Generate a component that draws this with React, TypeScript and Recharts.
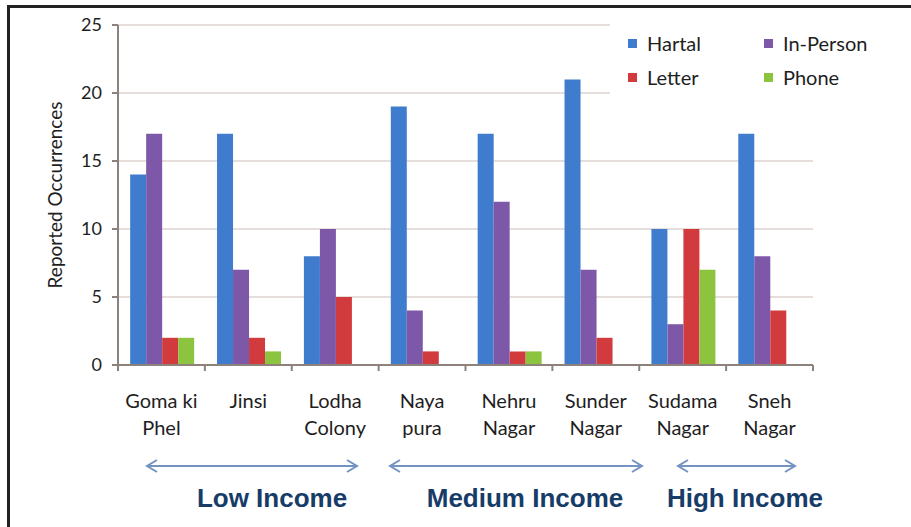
import { BarChart, Bar, XAxis, YAxis, CartesianGrid, Legend } from 'recharts'

const categories = [
  'Goma ki Phel',
  'Jinsi',
  'Lodha Colony',
  'Naya pura',
  'Nehru Nagar',
  'Sunder Nagar',
  'Sudama Nagar',
  'Sneh Nagar',
]
const hartal = [14, 17, 8, 19, 17, 21, 10, 17]
const inPerson = [17, 7, 10, 4, 12, 7, 3, 8]
const letter = [2, 2, 5, 1, 1, 2, 10, 4]
const phone = [2, 1, 0, 0, 1, 0, 7, 0]
const yTicks = [0, 5, 10, 15, 20, 25]

const seriesNames = ['Hartal', 'In-Person', 'Letter', 'Phone']
const seriesColors = ['#3f7ccd', '#7d58a8', '#d13b3d', '#8dc43f']

const incomeGroups = [
  { label: 'Low Income', x1: 147, x2: 357, cx: 272 },
  { label: 'Medium Income', x1: 390, x2: 642, cx: 525 },
  { label: 'High Income', x1: 678, x2: 795, cx: 745 },
]

const data = categories.map((name, i) => ({
  name,
  Hartal: hartal[i],
  'In-Person': inPerson[i],
  Letter: letter[i],
  Phone: phone[i],
}))

const W = 911
const H = 527
const CHART_H = 450
const PLOT_LEFT = 118
const PLOT_RIGHT = 813
const PLOT_TOP = 25
const PLOT_BOTTOM = 365
const BAND = (PLOT_RIGHT - PLOT_LEFT) / categories.length
const AXIS_COLOR = '#8d817c'
const FONT = 'Lato, "Open Sans", sans-serif'

function splitLabel(s: string) {
  const k = s.lastIndexOf(' ')
  return k < 0 ? [s] : [s.slice(0, k), s.slice(k + 1)]
}

function CategoryTick(props: any) {
  const { x, payload, index } = props
  const lines = splitLabel(payload.value)
  const half = BAND / 2
  return (
    <g>
      <line x1={x - half} x2={x - half} y1={PLOT_BOTTOM} y2={PLOT_BOTTOM + 6} stroke={AXIS_COLOR} strokeWidth={2} />
      {index === categories.length - 1 && (
        <line x1={x + half} x2={x + half} y1={PLOT_BOTTOM} y2={PLOT_BOTTOM + 6} stroke={AXIS_COLOR} strokeWidth={2} />
      )}
      {lines.map((t, i) => (
        <text key={i} x={x} y={PLOT_BOTTOM + 43 + i * 27} textAnchor="middle" fill="#1e1e1e" fontSize={20} fontFamily={FONT}>
          {t}
        </text>
      ))}
    </g>
  )
}

function LegendBox() {
  return (
    <div
      style={{
        background: '#fff',
        width: 270,
        height: 70,
        display: 'grid',
        gridTemplateColumns: '136px 134px',
        gridTemplateRows: '34px 34px',
        fontFamily: FONT,
        fontSize: 20,
        color: '#1e1e1e',
        boxSizing: 'border-box',
        paddingLeft: 18,
        paddingTop: 2,
      }}
    >
      {seriesNames.map((n, i) => (
        <div key={n} style={{ display: 'flex', alignItems: 'center' }}>
          <span style={{ width: 9, height: 9, background: seriesColors[i], marginRight: 10, display: 'inline-block' }} />
          {n}
        </div>
      ))}
    </div>
  )
}

function IncomeArrows() {
  const y = 466
  const c = '#7393c3'
  return (
    <svg width={W} height={H} style={{ position: 'absolute', left: 0, top: 0, pointerEvents: 'none' }}>
      {incomeGroups.map((g) => (
        <g key={g.label}>
          <line x1={g.x1} x2={g.x2} y1={y} y2={y} stroke={c} strokeWidth={2} />
          <polyline points={`${g.x1 + 10},${y - 6} ${g.x1},${y} ${g.x1 + 10},${y + 6}`} fill="none" stroke={c} strokeWidth={2} />
          <polyline points={`${g.x2 - 10},${y - 6} ${g.x2},${y} ${g.x2 - 10},${y + 6}`} fill="none" stroke={c} strokeWidth={2} />
          <text x={g.cx} y={507} textAnchor="middle" fontFamily='"Liberation Sans", Arial, sans-serif' fontWeight="bold" fontSize={26} fill="#173c68">
            {g.label}
          </text>
        </g>
      ))}
    </svg>
  )
}

export default function App() {
  return (
    <div style={{ position: 'absolute', left: 0, top: 0, width: W, height: H, background: '#fff', overflow: 'hidden' }}>
      <div style={{ position: 'absolute', left: 7, top: 5, width: W - 7, height: 3, background: '#222' }} />
      <div style={{ position: 'absolute', left: 7, top: 5, width: 3, height: H - 5, background: '#222' }} />
      <BarChart
        width={W}
        height={CHART_H}
        data={data}
        margin={{ top: PLOT_TOP, right: W - PLOT_RIGHT, left: PLOT_LEFT - 60, bottom: 0 }}
        barCategoryGap="14%"
        barGap={0}
        style={{ position: 'absolute', left: 0, top: 0 }}
      >
        <CartesianGrid vertical={false} stroke="#ddd3cf" strokeWidth={1.5} />
        <XAxis
          dataKey="name"
          height={CHART_H - PLOT_BOTTOM}
          interval={0}
          tickLine={false}
          axisLine={{ stroke: AXIS_COLOR, strokeWidth: 2 }}
          tick={<CategoryTick />}
        />
        <YAxis
          width={60}
          domain={[0, 25]}
          ticks={yTicks}
          interval={0}
          tickSize={6}
          tickMargin={10}
          axisLine={{ stroke: AXIS_COLOR, strokeWidth: 2 }}
          tickLine={{ stroke: AXIS_COLOR, strokeWidth: 2 }}
          tick={{ fill: '#1e1e1e', fontSize: 18, fontFamily: FONT }}
          label={{
            value: 'Reported Occurrences',
            angle: -90,
            position: 'insideLeft',
            dx: -8,
            dy: 0,
            style: { textAnchor: 'middle', fill: '#1e1e1e', fontSize: 19, fontFamily: FONT },
          }}
        />
        <Legend
          verticalAlign="middle"
          content={<LegendBox />}
          wrapperStyle={{ position: 'absolute', left: 610, top: 24, width: 270 }}
        />
        {seriesNames.map((n, i) => (
          <Bar key={n} dataKey={n} fill={seriesColors[i]} isAnimationActive={false} />
        ))}
      </BarChart>
      <IncomeArrows />
    </div>
  )
}
